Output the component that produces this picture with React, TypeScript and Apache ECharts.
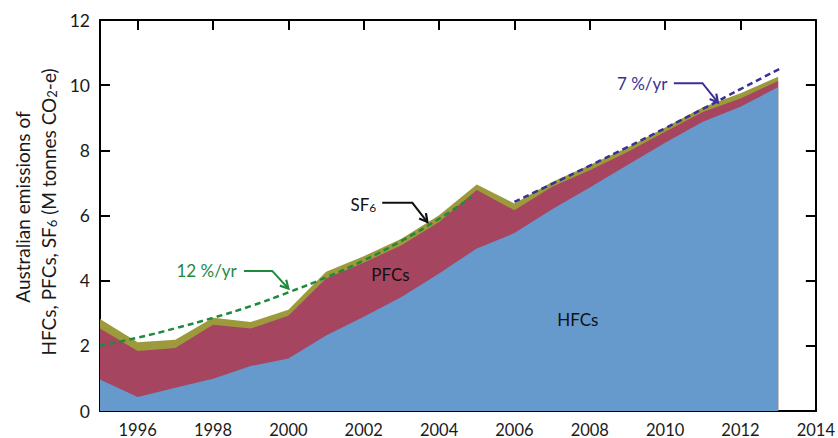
import React, { useEffect, useRef } from "react";
import * as echarts from "echarts";

// Australian synthetic greenhouse gas emissions, M tonnes CO2-e
const years = [1995, 1996, 1997, 1998, 1999, 2000, 2001, 2002, 2003, 2004, 2005, 2006, 2007, 2008, 2009, 2010, 2011, 2012, 2013];
const hfc = [0.97, 0.43, 0.71, 0.99, 1.38, 1.61, 2.32, 2.89, 3.5, 4.22, 4.99, 5.46, 6.19, 6.86, 7.55, 8.23, 8.88, 9.34, 9.94];
const pfc = [1.56, 1.41, 1.22, 1.66, 1.15, 1.31, 1.75, 1.66, 1.59, 1.58, 1.79, 0.7, 0.69, 0.53, 0.4, 0.34, 0.3, 0.25, 0.19];
const sf6 = [0.29, 0.27, 0.26, 0.21, 0.2, 0.19, 0.2, 0.2, 0.2, 0.21, 0.17, 0.21, 0.15, 0.16, 0.14, 0.13, 0.14, 0.16, 0.13];

// Growth-rate guide lines
const trend12Years = [1995, 1996, 1997, 1998, 1999, 2000, 2001, 2002, 2003, 2004, 2004.87];
const trend12 = [2.01, 2.25, 2.54, 2.86, 3.22, 3.64, 4.1, 4.62, 5.22, 5.9, 6.57];
const trend7Years = [2006, 2007, 2008, 2009, 2010, 2011, 2012, 2013.07];
const trend7 = [6.42, 6.97, 7.53, 8.1, 8.68, 9.27, 9.88, 10.52];

const xTicks = [1996, 1998, 2000, 2002, 2004, 2006, 2008, 2010, 2012, 2014];

const FONT = 'Lato, "Open Sans", sans-serif';
const C_HFC = "#6699cc";
const C_PFC = "#a64560";
const C_SF6 = "#9c9a3a";
const C_GREEN = "#1f8a3e";
const C_PURPLE = "#3b2f98";

const subStyle = { fontSize: 12, fontFamily: FONT, verticalAlign: "bottom", padding: [7, 0, 0, 0] };

function App() {
  const ref = useRef<HTMLDivElement>(null);

  useEffect(() => {
    if (!ref.current) return;
    const chart = echarts.init(ref.current, null, { renderer: "svg" });

    const axisLine = { show: true, onZero: false, lineStyle: { color: "#000", width: 2 } };
    const tick = { show: true, inside: true, length: 10, lineStyle: { color: "#000", width: 2 } };

    const pairs = (xs: number[], ys: number[]) => xs.map((x, i) => [x, ys[i]]);

    // Cumulative layer tops: HFCs, HFCs+PFCs, HFCs+PFCs+SF6
    const topHfc = hfc;
    const topPfc = hfc.map((v, i) => +(v + pfc[i]).toFixed(3));
    const topSf6 = topPfc.map((v, i) => +(v + sf6[i]).toFixed(3));

    // Each layer is filled down to zero; drawn from the highest so lower ones cover it
    const areaSeries = (name: string, vals: number[], color: string, z: number) => ({
      name,
      type: "line",
      data: pairs(years, vals),
      symbol: "none",
      lineStyle: { width: 0 },
      areaStyle: { color, opacity: 1, origin: "start" },
      itemStyle: { color },
      z,
    });

    chart.setOption({
      animation: false,
      grid: { left: 100, right: 22, top: 20, bottom: 27 },
      xAxis: [
        {
          type: "value",
          min: 1995,
          max: 2014,
          position: "bottom",
          axisLine,
          axisTick: { ...tick, customValues: xTicks },
          axisLabel: {
            customValues: xTicks,
            formatter: (v: number) => String(v),
            fontSize: 16.5,
            color: "#1a1a1a",
            margin: 10,
            fontFamily: FONT,
          },
          splitLine: { show: false },
        },
        {
          type: "value",
          min: 1995,
          max: 2014,
          position: "top",
          axisLine,
          axisTick: { ...tick, customValues: xTicks },
          axisLabel: { show: false },
          splitLine: { show: false },
        },
      ],
      yAxis: [
        {
          type: "value",
          min: 0,
          max: 12,
          interval: 2,
          position: "left",
          axisLine,
          axisTick: tick,
          axisLabel: { fontSize: 17.5, color: "#1a1a1a", margin: 10, fontFamily: FONT },
          splitLine: { show: false },
        },
        {
          type: "value",
          min: 0,
          max: 12,
          interval: 2,
          position: "right",
          axisLine,
          axisTick: tick,
          axisLabel: { show: false },
          splitLine: { show: false },
        },
      ],
      series: [
        areaSeries("SF6", topSf6, C_SF6, 1),
        areaSeries("PFCs", topPfc, C_PFC, 2),
        areaSeries("HFCs", topHfc, C_HFC, 3),
        {
          name: "12 %/yr",
          type: "line",
          data: pairs(trend12Years, trend12),
          symbol: "none",
          smooth: true,
          lineStyle: { color: C_GREEN, width: 2.5, type: [6, 4] },
          z: 5,
        },
        {
          name: "7 %/yr",
          type: "line",
          data: pairs(trend7Years, trend7),
          symbol: "none",
          smooth: true,
          lineStyle: { color: C_PURPLE, width: 2.5, type: [6, 4] },
          z: 5,
        },
      ],
    });

    const px = (x: number, y: number) =>
      chart.convertToPixel({ xAxisIndex: 0, yAxisIndex: 0 }, [x, y]) as number[];

    // Bent arrow with an open head at its last point
    const arrow = (pts: number[][], color: string) => {
      const p = pts.map(([x, y]) => px(x, y));
      const a = p[p.length - 2];
      const b = p[p.length - 1];
      const dx = b[0] - a[0];
      const dy = b[1] - a[1];
      const len = Math.hypot(dx, dy);
      const ux = dx / len;
      const uy = dy / len;
      const size = 9;
      const ang = 0.5;
      const head = [-ang, ang].map((t) => {
        const c = Math.cos(t);
        const s = Math.sin(t);
        return [b[0] - size * (ux * c - uy * s), b[1] - size * (ux * s + uy * c)];
      });
      return [
        { type: "polyline", shape: { points: p }, style: { stroke: color, lineWidth: 2, fill: "none" }, z: 10 },
        {
          type: "polyline",
          shape: { points: [head[0], b, head[1]] },
          style: { stroke: color, lineWidth: 2.2, fill: "none" },
          z: 10,
        },
      ];
    };

    const label = (x: number, y: number, text: string, color: string, size = 17) => {
      const [cx, cy] = px(x, y);
      return {
        type: "text",
        x: cx,
        y: cy,
        z: 10,
        style: {
          text,
          fill: color,
          fontSize: size,
          fontFamily: FONT,
          align: "center",
          verticalAlign: "middle",
          rich: { sub: { ...subStyle, fill: color } },
        },
      };
    };

    chart.setOption({
      graphic: [
        label(1997.83, 4.3, "12 %/yr", C_GREEN),
        ...arrow([[1998.82, 4.3], [1999.57, 4.3], [2000.0, 3.76]], C_GREEN),
        label(2001.99, 6.34, "SF{sub|6}", "#111"),
        ...arrow([[2002.49, 6.39], [2003.29, 6.39], [2003.69, 5.8]], "#111"),
        label(2002.71, 4.19, "PFCs", "#111"),
        label(2007.68, 2.81, "HFCs", "#111"),
        label(2009.39, 10.06, "7 %/yr", C_PURPLE),
        ...arrow([[2010.23, 10.06], [2010.99, 10.06], [2011.4, 9.47]], C_PURPLE),
        {
          type: "text",
          x: 22,
          y: 207,
          rotation: Math.PI / 2,
          style: {
            text: "Australian emissions of",
            fill: "#1a1a1a",
            fontSize: 19,
            fontFamily: FONT,
            align: "center",
            verticalAlign: "middle",
          },
        },
        {
          type: "text",
          x: 48,
          y: 212,
          rotation: Math.PI / 2,
          style: {
            text: "HFCs, PFCs, SF{sub|6} (M tonnes CO{sub|2}-e)",
            fill: "#1a1a1a",
            fontSize: 19,
            fontFamily: FONT,
            align: "center",
            verticalAlign: "middle",
            rich: { sub: { ...subStyle, fontSize: 13, fill: "#1a1a1a" } },
          },
        },
      ],
    });

    return () => chart.dispose();
  }, []);

  return (
    <div
      ref={ref}
      style={{ position: "fixed", left: 0, top: 0, width: 838, height: 438, background: "#fff" }}
    />
  );
}

export default App;
